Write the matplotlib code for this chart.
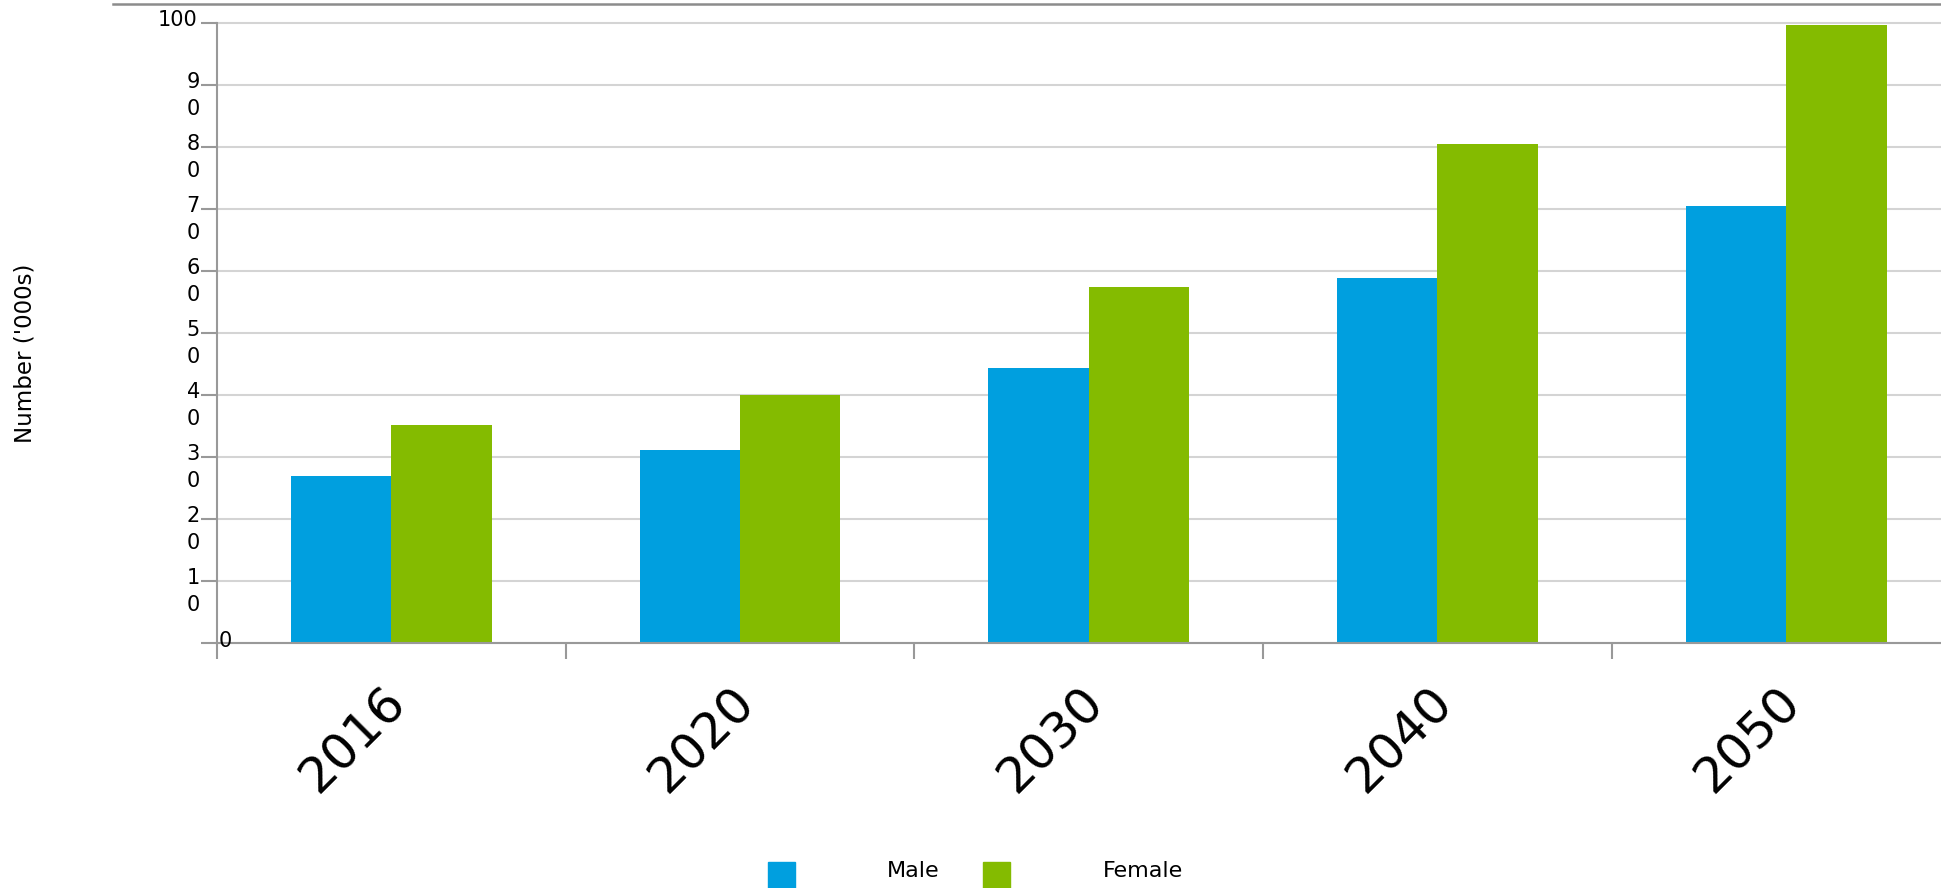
import matplotlib
matplotlib.use('Agg')
import matplotlib.pyplot as plt
from matplotlib.lines import Line2D
from matplotlib.patches import Rectangle
import numpy as np

# projected population by sex ('000s)
years = ['2016', '2020', '2030', '2040', '2050']
male = [27.0, 31.1, 44.4, 58.8, 70.5]
female = [35.2, 40.0, 57.5, 80.5, 99.7]

ytick_values = [0, 10, 20, 30, 40, 50, 60, 70, 80, 90, 100]
ytick_labels = ['0', '1\n0', '2\n0', '3\n0', '4\n0', '5\n0',
                '6\n0', '7\n0', '8\n0', '9\n0', '100']

BLUE = '#009fdf'
GREEN = '#84bb00'
AXIS_GREY = '#999999'
GRID_GREY = '#d4d4d4'

plt.rcParams['font.family'] = 'DejaVu Sans'

W, H = 1941, 888
fig = plt.figure(figsize=(W / 100, H / 100), dpi=100)
# plot area runs a little past the right edge of the figure
ax = fig.add_axes([217 / W, 245 / H, 1743.5 / W, 620 / H])

x = np.arange(len(years))
w = 0.288
bars_m = ax.bar(x - w / 2, male, w, color=BLUE, label='Male', zorder=2)
bars_f = ax.bar(x + w / 2, female, w, color=GREEN, label='Female', zorder=2)

ax.set_xlim(-0.5, len(years) - 0.5)
ax.set_ylim(0, 100)

for side in ['top', 'right']:
    ax.spines[side].set_visible(False)
for side in ['left', 'bottom']:
    ax.spines[side].set_color(AXIS_GREY)
    ax.spines[side].set_linewidth(1.5)

ax.set_yticks(ytick_values, labels=[''] * len(ytick_values))
ax.tick_params(axis='y', length=11.5, width=1.5, color=AXIS_GREY)
ax.yaxis.grid(True, color=GRID_GREY, linewidth=1.5)
ax.set_axisbelow(True)
for t in ax.yaxis.get_major_ticks():
    t.gridline.set_clip_on(False)

ax.set_xticks(x, labels=[''] * len(years))
ax.set_xticks(np.arange(len(years) + 1) - 0.5, minor=True)
ax.tick_params(axis='x', which='major', length=0)
ax.tick_params(axis='x', which='minor', length=11.5, width=1.5, color=AXIS_GREY)

# y labels: wrapped digits hanging from the tick, zero tucked inside the axis
for v, lab in zip(ytick_values, ytick_labels):
    if v == 0:
        dx, dy = 15, -4
    elif '\n' in lab:
        dx, dy = -17, -30
    else:
        dx, dy = -20, -3
    ax.annotate(lab, xy=(0, v), xycoords=('axes fraction', 'data'),
                xytext=(dx, dy), textcoords='offset pixels',
                ha='right', va='baseline', fontsize=15, linespacing=1.45,
                annotation_clip=False)

for xi, lab in zip(x, years):
    ax.annotate(lab, xy=(xi, 0), xycoords=('data', 'axes fraction'),
                xytext=(7, -52), textcoords='offset pixels',
                ha='right', va='center', rotation=45, rotation_mode='anchor',
                fontsize=36, annotation_clip=False)

fig.text(25 / W, 1 - 353 / H, "Number ('000s)", rotation=90,
         ha='center', va='center', fontsize=16.5)

fig.add_artist(Line2D([113 / W, 1], [1 - 4 / H, 1 - 4 / H],
                      color='#8c8c8c', linewidth=1.8))

# legend swatches and names along the bottom edge
legend_items = [(bars_m, 'Male', 768, 887), (bars_f, 'Female', 983, 1103)]
for bars, name, px, tx in legend_items:
    fig.patches.append(Rectangle((px / W, 0), 27 / W, 26 / H,
                                 transform=fig.transFigure,
                                 color=bars.patches[0].get_facecolor()))
    fig.text(tx / W, 1 - 877 / H, name, ha='left', va='baseline', fontsize=16)

fig.savefig('out.png', dpi=100)
